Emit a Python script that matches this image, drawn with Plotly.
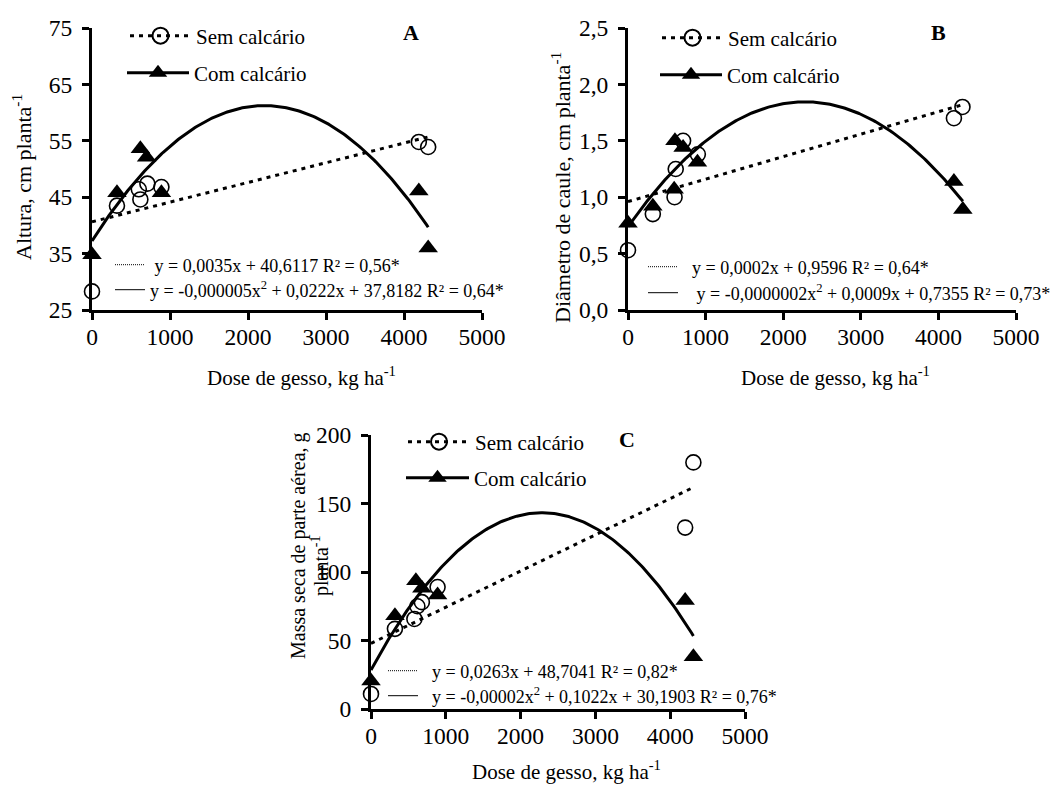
import numpy as np
import plotly.graph_objects as go

# The page body has an 8px margin, so the figure is drawn 8px in from the
# window corner; the figure is sized to fill the rest of the 1063x785 window.
OFF = 8
W, H = 1063 - OFF, 785 - OFF
FONT = "Liberation Serif"

# ---------------- data ----------------
# Panel A: Altura (cm planta-1)
a_sem_x = [0, 320, 600, 620, 710, 890, 4190, 4310]
a_sem_y = [28.3, 43.5, 46.4, 44.6, 47.4, 46.8, 54.8, 53.9]
a_com_x = [0, 320, 620, 700, 890, 4190, 4310]
a_com_y = [34.8, 45.8, 53.6, 52.1, 45.8, 46.1, 36.0]

# Panel B: Diâmetro de caule (cm planta-1)
b_sem_x = [0, 320, 600, 615, 710, 900, 4200, 4310]
b_sem_y = [0.53, 0.85, 1.00, 1.25, 1.50, 1.38, 1.70, 1.80]
b_com_x = [0, 320, 595, 605, 710, 895, 4200, 4315]
b_com_y = [0.77, 0.92, 1.07, 1.50, 1.44, 1.31, 1.14, 0.89]

# Panel C: Massa seca de parte aérea (g planta-1)
c_sem_x = [0, 320, 580, 620, 680, 890, 4200, 4310]
c_sem_y = [11.0, 58.5, 65.7, 75.0, 78.0, 89.0, 132.4, 180.0]
c_com_x = [0, 320, 600, 680, 890, 4200, 4310]
c_com_y = [20.5, 68.0, 93.7, 88.2, 83.3, 79.2, 38.2]

x_tickvals = [0, 1000, 2000, 3000, 4000, 5000]
x_ticktext = ["0", "1000", "2000", "3000", "4000", "5000"]
a_tickvals = [25, 35, 45, 55, 65, 75]
a_ticktext = ["25", "35", "45", "55", "65", "75"]
b_tickvals = [0, 0.5, 1.0, 1.5, 2.0, 2.5]
b_ticktext = ["0,0", "0,5", "1,0", "1,5", "2,0", "2,5"]
c_tickvals = [0, 50, 100, 150, 200]
c_ticktext = ["0", "50", "100", "150", "200"]

a_eq = ["y = 0,0035x + 40,6117 R² = 0,56*",
        "y = -0,000005x<sup>2</sup> + 0,0222x + 37,8182 R² = 0,64*"]
b_eq = ["y = 0,0002x + 0,9596 R² = 0,64*",
        "y = -0,0000002x<sup>2</sup> + 0,0009x + 0,7355 R² = 0,73*"]
c_eq = ["y = 0,0263x + 48,7041 R² = 0,82*",
        "y = -0,00002x<sup>2</sup> + 0,1022x + 30,1903 R² = 0,76*"]

# ---------------- helpers ----------------
def px(x):
    return (x - OFF) / W

def py(y):
    return 1 - (y - OFF) / H

NB = "\u00a0"
fig = go.Figure()

DOT = "4px,5px"

def add_panel(sx, sy, cx, cy, xa, ya):
    # least-squares trendlines (linear for "Sem", quadratic for "Com")
    p1 = np.polyfit(sx, sy, 1)
    gx = np.linspace(0, max(sx), 120)
    fig.add_trace(go.Scatter(x=gx, y=np.polyval(p1, gx), mode="lines",
                             line=dict(color="black", width=3, dash=DOT),
                             xaxis=xa, yaxis=ya, showlegend=False, hoverinfo="skip"))
    p2 = np.polyfit(cx, cy, 2)
    gx2 = np.linspace(0, max(cx), 200)
    fig.add_trace(go.Scatter(x=gx2, y=np.polyval(p2, gx2), mode="lines",
                             line=dict(color="black", width=3),
                             xaxis=xa, yaxis=ya, showlegend=False, hoverinfo="skip"))
    fig.add_trace(go.Scatter(x=sx, y=sy, mode="markers", cliponaxis=False,
                             marker=dict(symbol="circle-open", size=15, color="black",
                                         line=dict(width=1.6, color="black")),
                             xaxis=xa, yaxis=ya, showlegend=False))
    fig.add_trace(go.Scatter(x=cx, y=cy, mode="markers", cliponaxis=False,
                             marker=dict(symbol="triangle-up", size=17, color="black"),
                             xaxis=xa, yaxis=ya, showlegend=False))

add_panel(a_sem_x, a_sem_y, a_com_x, a_com_y, "x", "y")
add_panel(b_sem_x, b_sem_y, b_com_x, b_com_y, "x2", "y2")
add_panel(c_sem_x, c_sem_y, c_com_x, c_com_y, "x3", "y3")

# ---------------- legends (one entry each) ----------------
legend_layouts = {}
leg_counter = [0]

def add_legend_entry(name, kind, origin_x, center_y, itemwidth, size, xa, ya):
    leg_counter[0] += 1
    key = "legend" if leg_counter[0] == 1 else f"legend{leg_counter[0]}"
    if kind == "sem":
        tr = go.Scatter(x=[None], y=[None], mode="lines+markers", name=name,
                        line=dict(color="black", width=3, dash=DOT),
                        marker=dict(symbol="circle-open", size=16, color="black",
                                    line=dict(width=2, color="black")))
    elif kind == "com":
        tr = go.Scatter(x=[None], y=[None], mode="lines+markers", name=name,
                        line=dict(color="black", width=3),
                        marker=dict(symbol="triangle-up", size=16, color="black"))
    elif kind == "eqdot":
        tr = go.Scatter(x=[None], y=[None], mode="lines", name=name,
                        line=dict(color="black", width=1, dash="1px,1px"))
    else:
        tr = go.Scatter(x=[None], y=[None], mode="lines", name=name,
                        line=dict(color="black", width=1))
    tr.update(xaxis=xa, yaxis=ya, showlegend=True, legend=key)
    fig.add_trace(tr)
    legend_layouts[key] = dict(x=px(origin_x), y=py(center_y), xanchor="left", yanchor="middle",
                               bgcolor="rgba(0,0,0,0)", borderwidth=0, itemwidth=itemwidth,
                               font=dict(family=FONT, size=size, color="black"),
                               itemclick=False, itemdoubleclick=False)

LEGF = 21
EQF = 18
# Panel A
add_legend_entry("Sem calcário", "sem", 125, 36, 61, LEGF, "x", "y")
add_legend_entry("Com calcário", "com", 122, 73, 62, LEGF, "x", "y")
add_legend_entry(NB + a_eq[0], "eqdot", 110, 265, 30, EQF, "x", "y")
add_legend_entry(a_eq[1], "eqsolid", 110, 290, 30, EQF, "x", "y")
# Panel B
add_legend_entry("Sem calcário", "sem", 657, 38, 61, LEGF, "x2", "y2")
add_legend_entry("Com calcário", "com", 655, 75, 62, LEGF, "x2", "y2")
add_legend_entry(NB * 2 + b_eq[0], "eqdot", 643, 267, 30, EQF, "x2", "y2")
add_legend_entry(NB * 3 + b_eq[1], "eqsolid", 643, 293, 30, EQF, "x2", "y2")
# Panel C
add_legend_entry("Sem calcário", "sem", 403, 442, 62, LEGF, "x3", "y3")
add_legend_entry("Com calcário", "com", 401, 478, 63, LEGF, "x3", "y3")
add_legend_entry(NB * 2 + c_eq[0], "eqdot", 383, 671, 30, EQF, "x3", "y3")
add_legend_entry(NB * 2 + c_eq[1], "eqsolid", 383, 696, 30, EQF, "x3", "y3")

# ---------------- axes ----------------
TICKF = dict(family=FONT, size=23.5, color="black")

def xax(domain):
    return dict(domain=domain, range=[0, 5000], tickvals=x_tickvals, ticktext=x_ticktext,
                showline=True, linecolor="black", linewidth=3, ticks="outside",
                ticklen=7, tickwidth=3, tickcolor="black", showgrid=False, zeroline=False,
                ticklabelstandoff=-3,
                tickfont=TICKF, fixedrange=True, automargin=False)

def yax(domain, rng, tv, tt, anchor):
    return dict(domain=domain, range=rng, tickvals=tv, ticktext=tt, anchor=anchor,
                showline=True, linecolor="black", linewidth=3, ticks="outside",
                ticklen=7, tickwidth=3, tickcolor="black", showgrid=False, zeroline=False,
                ticklabelstandoff=5,
                tickfont=TICKF, fixedrange=True, automargin=False)

yA = [py(310), py(28)]
yC = [py(709), py(435)]

layout = dict(
    width=W, height=H, autosize=False,
    margin=dict(l=0, r=0, t=0, b=0),
    paper_bgcolor="white", plot_bgcolor="rgba(0,0,0,0)",
    font=dict(family=FONT, color="black"),
    xaxis=dict(**xax([px(92), px(482)]), anchor="y"),
    yaxis=yax(yA, [25, 75], a_tickvals, a_ticktext, "x"),
    xaxis2=dict(**xax([px(628), px(1016)]), anchor="y2"),
    yaxis2=yax(yA, [0, 2.5], b_tickvals, b_ticktext, "x2"),
    xaxis3=dict(**xax([px(371), px(745)]), anchor="y3"),
    yaxis3=yax(yC, [0, 200], c_tickvals, c_ticktext, "x3"),
)
layout.update(legend_layouts)

def ann(text, x, y, size, angle=0, bold=False):
    return dict(text=f"<b>{text}</b>" if bold else text, x=px(x), y=py(y),
                xref="paper", yref="paper", xanchor="center", yanchor="middle",
                showarrow=False, textangle=angle,
                font=dict(family=FONT, size=size, color="black"))

annotations = [
    ann("Dose de gesso, kg ha<sup>-1</sup>", 301, 377, 21),
    ann("Dose de gesso, kg ha<sup>-1</sup>", 835, 376, 21),
    ann("Dose de gesso, kg ha<sup>-1</sup>", 566, 770, 21),
    ann("Altura, cm planta<sup>-1</sup>", 22, 177, 22, -90),
    ann("Diâmetro de caule, cm planta<sup>-1</sup>", 561, 188, 22, -90),
    ann("Massa seca de parte aérea, g", 298, 546, 20, -90),
    ann("planta<sup>-1</sup>", 320, 566, 20, -90),
    ann("A", 411, 32, 22, bold=True),
    ann("B", 938, 32, 22, bold=True),
    ann("C", 627, 439, 22, bold=True),
]
layout["annotations"] = annotations

fig.update_layout(**layout)
fig.write_html("out.html")
